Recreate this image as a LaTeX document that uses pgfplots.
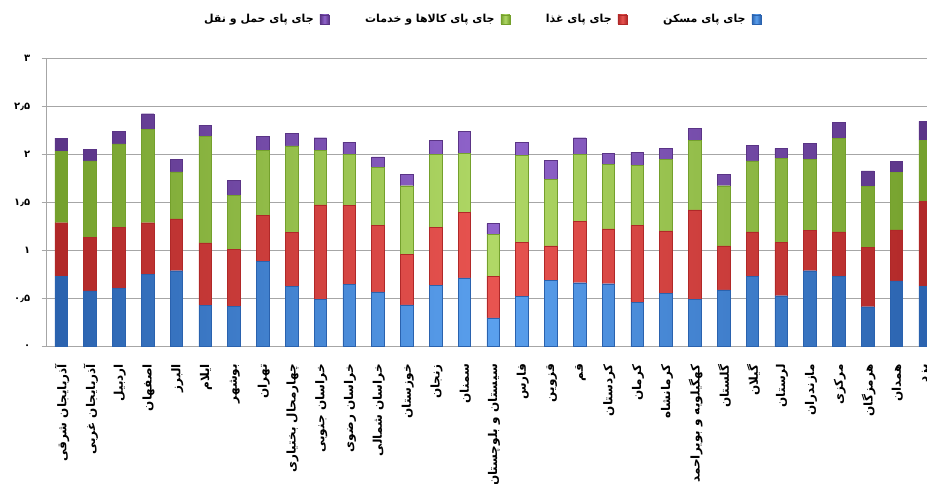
\documentclass[border=0pt]{standalone}
\usepackage{fontspec}
\usepackage{pgfplots}
\usepackage{pgfplotstable}
\pgfplotsset{compat=1.18}
\TeXXeTstate=1
\newfontfamily\fa[Script=Arabic]{DejaVu Sans}
\definecolor{bE}{HTML}{2A62AE}\definecolor{bM}{HTML}{5AA0EE}
\definecolor{rE}{HTML}{B02828}\definecolor{rM}{HTML}{E85450}
\definecolor{gE}{HTML}{74A02C}\definecolor{gM}{HTML}{B0D866}
\definecolor{pE}{HTML}{5A3486}\definecolor{pM}{HTML}{9064CC}
\definecolor{gridc}{HTML}{A6A6A6}
\pgfplotstableread{
idx blue red green purple
0 0.735 0.555 0.74 0.14
1 0.58 0.555 0.80 0.12
2 0.61 0.635 0.865 0.13
3 0.75 0.54 0.975 0.16
4 0.79 0.54 0.49 0.13
5 0.43 0.65 1.11 0.115
6 0.42 0.59 0.565 0.155
7 0.885 0.48 0.675 0.15
8 0.625 0.565 0.90 0.13
9 0.49 0.985 0.57 0.13
10 0.645 0.825 0.53 0.13
11 0.57 0.695 0.60 0.11
12 0.435 0.525 0.715 0.12
13 0.635 0.61 0.755 0.15
14 0.715 0.685 0.615 0.23
15 0.30 0.435 0.435 0.11
16 0.52 0.565 0.905 0.14
17 0.69 0.36 0.69 0.20
18 0.665 0.64 0.695 0.175
19 0.655 0.57 0.675 0.115
20 0.46 0.80 0.63 0.135
21 0.555 0.65 0.745 0.115
22 0.49 0.935 0.72 0.13
23 0.59 0.46 0.625 0.12
24 0.735 0.46 0.74 0.16
25 0.53 0.555 0.875 0.105
26 0.79 0.42 0.74 0.17
27 0.735 0.46 0.975 0.165
28 0.415 0.615 0.64 0.16
29 0.685 0.53 0.60 0.115
30 0.63 0.88 0.635 0.20
}\datatable
\begin{document}
\begin{tikzpicture}
\useasboundingbox (0,0) rectangle (927pt,483pt);
\clip (0,0) rectangle (927pt,483pt);
\begin{axis}[
  at={(46.7pt,136.4pt)}, anchor=south west,
  width=880.3pt, height=288.1pt, scale only axis,
  ybar stacked, bar width=12.5pt,
  xmin=-0.5, xmax=30.066, ymin=0, ymax=3,
  axis x line*=bottom, axis y line*=left,
  axis line style={gridc, line width=0.8pt},
  tick align=outside,
  xtick={0,...,30},
  x tick style={draw=none},
  extra x ticks={-0.5,0.5,...,29.5},
  extra x tick labels={},
  extra x tick style={major tick length=5pt, tick style={gridc, line width=0.8pt}},
  xticklabels={{\beginR آذربایجان شرقی\endR},{\beginR آذربایجان غربی\endR},{\beginR اردبیل\endR},{\beginR اصفهان\endR},{\beginR البرز\endR},{\beginR ایلام\endR},{\beginR بوشهر\endR},{\beginR تهران\endR},{\beginR چهارمحال بختیاری\endR},{\beginR خراسان جنوبی\endR},{\beginR خراسان رضوی\endR},{\beginR خراسان شمالی\endR},{\beginR خوزستان\endR},{\beginR زنجان\endR},{\beginR سمنان\endR},{\beginR سیستان و بلوچستان\endR},{\beginR فارس\endR},{\beginR قزوین\endR},{\beginR قم\endR},{\beginR کردستان\endR},{\beginR کرمان\endR},{\beginR کرمانشاه\endR},{\beginR کهگیلویه و بویراحمد\endR},{\beginR گلستان\endR},{\beginR گیلان\endR},{\beginR لرستان\endR},{\beginR مازندران\endR},{\beginR مرکزی\endR},{\beginR هرمزگان\endR},{\beginR همدان\endR},{\beginR یزد\endR}},
  xticklabel style={font=\fa\bfseries\fontsize{12}{12}\selectfont, rotate=90, anchor=east, xshift=-9pt, yshift=-1pt},
  ytick={0,0.5,...,3},
  yticklabels={۰,۰٫۵,۱,۱٫۵,۲,۲٫۵,۳},
  yticklabel style={font=\fa\bfseries\fontsize{10}{11}\selectfont, xshift=-8pt},
  y tick style={gridc, line width=0.8pt},
  major tick length=5pt,
  ymajorgrids, grid style={gridc, line width=0.8pt},
  legend style={at={(0.494,1)}, anchor=south, yshift=30pt, draw=none, fill=none,
    font=\fa\bfseries\fontsize{11}{13}\selectfont,
    /tikz/every even column/.append style={column sep=34pt},
    /tikz/every odd column/.append style={column sep=4pt}},
  legend columns=4, reverse legend, legend plot pos=right,
  legend image code/.code={\draw[#1] (0pt,-4.5pt) rectangle (9pt,4.5pt);},
]
\addplot[draw=bE, line width=0.4pt, left color=bE, right color=bE, middle color=bM] table[x=idx,y=blue]{\datatable};
\addlegendentry{\beginR جای پای مسکن\endR}
\addplot[draw=rE, line width=0.4pt, left color=rE, right color=rE, middle color=rM] table[x=idx,y=red]{\datatable};
\addlegendentry{\beginR جای پای غذا\endR}
\addplot[draw=gE, line width=0.4pt, left color=gE, right color=gE, middle color=gM] table[x=idx,y=green]{\datatable};
\addlegendentry{\beginR جای پای کالاها و خدمات\endR}
\addplot[draw=pE, line width=0.4pt, left color=pE, right color=pE, middle color=pM] table[x=idx,y=purple]{\datatable};
\addlegendentry{\beginR جای پای حمل و نقل\endR}
\end{axis}
\end{tikzpicture}
\end{document}
